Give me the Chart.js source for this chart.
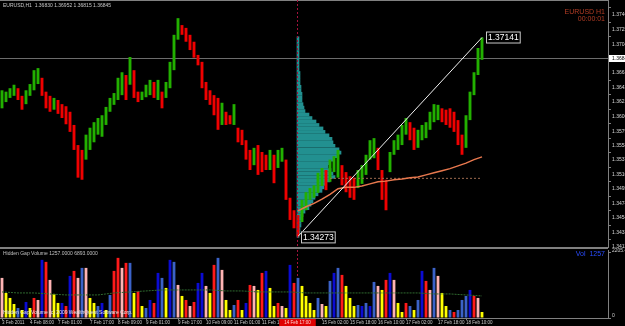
<!DOCTYPE html>
<html>
<head>
<meta charset="utf-8">
<script src="https://cdn.jsdelivr.net/npm/chart.js@4.4.1/dist/chart.umd.min.js"></script>
<style>
html, body { margin: 0; padding: 0; background: #000; overflow: hidden; }
#wrap { position: relative; width: 625px; height: 326px; background: #000; }
#price { position: absolute; left: 0; top: 0; }
#vol { position: absolute; left: 0; top: 247px; }
</style>
</head>
<body>
<div id="wrap">
  <canvas id="price" width="625" height="250"></canvas>
  <canvas id="vol" width="625" height="79"></canvas>
</div>
<script>
// EURUSD H1, 3 Feb - 18 Feb 2011
const SLOTS = 152;            // bar slots on the time axis (incl. empty space on the right)
const PROFILE_START = 74;     // bar where the volume profile / vertical line starts
const slots = Array.from({ length: SLOTS }, (_, i) => i);

const dateTicks = [0, 7, 14, 22, 29, 36, 44, 51, 58, 65, 80, 87, 94, 101, 109, 116];
const dateLabels = ['3 Feb 2011', '4 Feb 08:00', '7 Feb 01:00', '7 Feb 17:00', '8 Feb 09:00',
  '9 Feb 01:00', '9 Feb 17:00', '10 Feb 09:00', '11 Feb 01:00', '11 Feb 17:00', '15 Feb 02:00',
  '15 Feb 18:00', '16 Feb 10:00', '17 Feb 02:00', '17 Feb 18:00', '18 Feb 10:00'];
const lineTimeLabel = '14 Feb 17:00';

const priceTicks = [1.34120, 1.34330, 1.34540, 1.34745, 1.34955, 1.35165, 1.35375, 1.35585,
  1.35790, 1.36000, 1.36210, 1.36420, 1.36630, 1.37045, 1.37255, 1.37465];
const priceMin = 1.34120, priceMax = 1.37682;
const lastPrice = 1.36845;

const highs = [1.3638, 1.3636, 1.3641, 1.3646, 1.3641, 1.3630, 1.3638, 1.3647, 1.3667, 1.3670,
  1.3656, 1.3636, 1.3630, 1.3627, 1.3624, 1.3618, 1.3615, 1.3607, 1.3588, 1.3559,
  1.3552, 1.3574, 1.3584, 1.3592, 1.3598, 1.3602, 1.3614, 1.3627, 1.3634, 1.3656,
  1.3664, 1.3660, 1.3686, 1.3667, 1.3636, 1.3636, 1.3646, 1.3653, 1.3650, 1.3653,
  1.3636, 1.3650, 1.3679, 1.3718, 1.3742, 1.3732, 1.3728, 1.3718, 1.3708, 1.3689,
  1.3679, 1.3650, 1.3638, 1.3631, 1.3627, 1.3620, 1.3607, 1.3602, 1.3618, 1.3584,
  1.3581, 1.3566, 1.3552, 1.3555, 1.3559, 1.3549, 1.3545, 1.3552, 1.3545, 1.3552,
  1.3555, 1.3538, 1.3483, 1.3465, 1.3458, 1.3480, 1.3491, 1.3497, 1.3501, 1.3519,
  1.3526, 1.3523, 1.3538, 1.3543, 1.3552, 1.3530, 1.3520, 1.3514, 1.3512, 1.3523,
  1.3530, 1.3545, 1.3566, 1.3569, 1.3555, 1.3523, 1.3509, 1.3549, 1.3566, 1.3574,
  1.3588, 1.3598, 1.3592, 1.3584, 1.3581, 1.3588, 1.3592, 1.3607, 1.3618, 1.3617,
  1.3612, 1.3610, 1.3612, 1.3607, 1.3595, 1.3574, 1.3602, 1.3636, 1.3664, 1.3699,
  1.37141];
const lows = [1.3612, 1.3621, 1.3627, 1.3630, 1.3624, 1.3610, 1.3618, 1.3630, 1.3638, 1.3647,
  1.3630, 1.3612, 1.3607, 1.3610, 1.3604, 1.3598, 1.3589, 1.3578, 1.3552, 1.3512,
  1.3509, 1.3538, 1.3552, 1.3563, 1.3574, 1.3571, 1.3588, 1.3607, 1.3617, 1.3624,
  1.3631, 1.3624, 1.3646, 1.3627, 1.3621, 1.3624, 1.3628, 1.3631, 1.3627, 1.3624,
  1.3612, 1.3627, 1.3641, 1.3667, 1.3711, 1.3718, 1.3708, 1.3696, 1.3685, 1.3674,
  1.3641, 1.3624, 1.3617, 1.3602, 1.3581, 1.3588, 1.3588, 1.3589, 1.3588, 1.3563,
  1.3559, 1.3538, 1.3523, 1.3530, 1.3516, 1.3520, 1.3523, 1.3523, 1.3504, 1.3526,
  1.3535, 1.3480, 1.3451, 1.3439, 1.34273, 1.3448, 1.3465, 1.3480, 1.3483, 1.3490,
  1.3500, 1.3494, 1.3506, 1.3520, 1.3512, 1.3501, 1.3491, 1.3483, 1.3480, 1.3497,
  1.3503, 1.3516, 1.3538, 1.3540, 1.3523, 1.3480, 1.3465, 1.3520, 1.3545, 1.3552,
  1.3559, 1.3574, 1.3566, 1.3552, 1.3555, 1.3566, 1.3569, 1.3581, 1.3592, 1.3595,
  1.3592, 1.3588, 1.3584, 1.3578, 1.3559, 1.3545, 1.3555, 1.3595, 1.3631, 1.3660,
  1.3682];

// trend line between session low and latest high
const trendIdx = [74, 120];
const trendVals = [1.34273, 1.37141];

// session VWAP (orange) and level line (dotted)
const vwapIdx = [74, 76, 78, 80, 82, 84, 86, 88, 90, 92, 94, 96, 98, 100, 102, 104, 106, 108, 110, 112, 114, 116, 118, 120];
const vwapVals = [1.3464, 1.3470, 1.3475, 1.3481, 1.3488, 1.3496, 1.3498, 1.3498, 1.3500, 1.3503, 1.3506, 1.3507,
  1.3509, 1.3510, 1.3512, 1.3513, 1.3516, 1.3519, 1.3522, 1.3525, 1.3529, 1.3533, 1.3538, 1.3542];
const levelIdx = [82, 120];
const levelVal = 1.3511;

// volume profile of the session (price level -> volume)
const profileLevels = [1.3428, 1.3433, 1.3438, 1.3443, 1.3448, 1.3453, 1.3458, 1.3463, 1.3468, 1.3473,
  1.3478, 1.3483, 1.3488, 1.3493, 1.3498, 1.3503, 1.3508, 1.3513, 1.3518, 1.3523,
  1.3528, 1.3533, 1.3538, 1.3543, 1.3548, 1.3553, 1.3558, 1.3563, 1.3568, 1.3573,
  1.3578, 1.3583, 1.3588, 1.3593, 1.3598, 1.3603, 1.3608, 1.3613, 1.3618, 1.3623,
  1.3628, 1.3633, 1.3638, 1.3643, 1.3648, 1.3653, 1.3658, 1.3663, 1.3668, 1.3673,
  1.3678, 1.3683, 1.3688, 1.3693, 1.3698, 1.3703, 1.3708, 1.3713];
const profileVols = [400, 600, 600, 800, 800, 1000, 1200, 1600, 2400, 2800,
  3200, 3600, 4200, 5000, 5400, 5800, 6600, 7600, 7200, 6800,
  6200, 6600, 7200, 8000, 8800, 8400, 7600, 7200, 7000, 6400,
  5600, 5200, 4400, 3800, 3000, 2400, 1600, 1400, 1200, 1000,
  1000, 1000, 800, 800, 600, 600, 600, 600, 400, 400,
  400, 400, 400, 400, 400, 400, 400, 400];
const PROFILE_PER_SLOT = 800;

// Hidden Gap Volume
const volumes = [1360, 850, 680, 476, 340, 272, 544, 340, 680, 612,
  1972, 1904, 1292, 816, 510, 510, 408, 1428, 1598, 1360,
  1700, 1700, 680, 510, 408, 510, 272, 782, 1598, 2040,
  1700, 1870, 1870, 850, 918, 408, 340, 612, 510, 1530,
  1360, 1020, 1972, 1904, 1122, 748, 612, 408, 544, 1190,
  1530, 1088, 850, 1802, 2040, 1632, 612, 272, 442, 612,
  272, 510, 1122, 1088, 952, 1530, 1598, 1020, 408, 510,
  408, 340, 1802, 1190, 1360, 1088, 748, 510, 272, 680,
  476, 408, 1258, 1530, 1700, 1462, 1088, 680, 408, 442,
  408, 510, 408, 1224, 1088, 952, 1292, 1530, 1292, 510,
  204, 510, 408, 272, 612, 1598, 1258, 952, 1700, 1428,
  850, 408, 272, 204, 272, 612, 748, 952, 748, 680,
  204];
const volTypes = 'pyyylybyrp' + 'brpyybrbrp' + 'lpyylbylrr' + 'prlyrylbrb' + 'lyblpyrprb' +
  'bpyrlpyylr' + 'ybrpyrbyyr' + 'pybrlyyyyl' + 'pylblryyyl' + 'blblpyrbpy' + 'yrlylbrplp' + 'yylrlllbrpy';
const maIdx = [0, 4, 8, 12, 16, 20, 24, 28, 32, 36, 40, 44, 48, 52, 56, 60, 64, 68, 72, 76, 80, 84, 88, 92, 96, 100, 104, 108, 112, 116, 120];
const maVals = [884, 850, 850, 816, 782, 782, 782, 850, 884, 918, 952, 952, 952, 952, 918, 918,
  884, 884, 884, 850, 850, 850, 850, 850, 850, 850, 850, 816, 816, 782, 748];
const volTicks = [0, 2205.4];
const volMax = 2307;

const FONT = 'Liberation Sans';
const UP = '#22b000', DOWN = '#f00000';
const volPalette = { b: '#0b0bd2', l: '#3b62c8', r: '#ff1a1a', p: '#ffb4b4', y: '#ffff00' };
const AXIS = '#808080';

const candles = highs.map((h, i) => [lows[i], h]);
const candleColors = highs.map((h, i) =>
  i === 0 || h + lows[i] >= highs[i - 1] + lows[i - 1] ? UP : DOWN);
const pts = (idx, vals) => idx.map((x, i) => ({ x, y: Array.isArray(vals) ? vals[i] : vals }));

function noPad(s) { s.paddingTop = 0; s.paddingBottom = 0; s.paddingLeft = 0; s.paddingRight = 0; }

function labelBox(ctx, text, left, cy) {
  ctx.font = '8.5px ' + FONT;
  const w = ctx.measureText(text).width + 4;
  ctx.fillStyle = '#000';
  ctx.fillRect(left, cy - 6, w, 12);
  ctx.strokeStyle = '#c8c8c8';
  ctx.lineWidth = 1;
  ctx.strokeRect(left + 0.5, cy - 5.5, w - 1, 11);
  ctx.fillStyle = '#ffffff';
  ctx.textBaseline = 'middle';
  ctx.textAlign = 'left';
  ctx.fillText(text, left + 2, cy + 0.5);
}

const priceDecor = {
  id: 'priceDecor',
  beforeDatasetsDraw(chart) {
    const { ctx, chartArea: a, scales: { y } } = chart;
    ctx.save();
    ctx.strokeStyle = AXIS;
    ctx.lineWidth = 1;
    ctx.beginPath(); ctx.moveTo(0, 0.5); ctx.lineTo(a.right, 0.5); ctx.stroke();
    const yc = Math.round(y.getPixelForValue(lastPrice)) + 0.5;
    ctx.strokeStyle = '#6c6c6c';
    ctx.beginPath(); ctx.moveTo(a.left, yc); ctx.lineTo(a.right, yc); ctx.stroke();
    ctx.restore();
  },
  afterDatasetsDraw(chart) {
    const { ctx, chartArea: a, scales: { x, y } } = chart;
    ctx.save();
    const lx = Math.round(x.getPixelForValue(PROFILE_START)) - 0.5;
    ctx.strokeStyle = '#a3123c';
    ctx.setLineDash([2, 2]);
    ctx.beginPath(); ctx.moveTo(lx, a.top); ctx.lineTo(lx, a.bottom); ctx.stroke();
    ctx.setLineDash([]);
    labelBox(ctx, trendVals[1].toFixed(5), x.getPixelForValue(trendIdx[1]) + 4, y.getPixelForValue(trendVals[1]));
    labelBox(ctx, trendVals[0].toFixed(5), x.getPixelForValue(trendIdx[0]) + 3, y.getPixelForValue(trendVals[0]) + 1);
    ctx.restore();
  },
  afterDraw(chart) {
    const { ctx, chartArea: a, scales: { y } } = chart;
    ctx.save();
    ctx.textBaseline = 'middle';
    ctx.font = '5px ' + FONT;
    ctx.fillStyle = '#c8c8c8';
    ctx.textAlign = 'left';
    ctx.fillText('EURUSD,H1  1.36830 1.36952 1.36815 1.36845', 3, 6);
    ctx.font = '7px ' + FONT;
    ctx.fillStyle = '#b23c24';
    ctx.textAlign = 'right';
    ctx.fillText('EURUSD H1', 605, 12);
    ctx.fillText('00:00:01', 605, 19);
    const yc = Math.round(y.getPixelForValue(lastPrice)) + 0.5;
    ctx.fillStyle = '#ffffff';
    ctx.fillRect(a.right + 1, yc - 3.5, 17, 7);
    ctx.fillStyle = '#000';
    ctx.font = '5px ' + FONT;
    ctx.textAlign = 'left';
    ctx.fillText(lastPrice.toFixed(5), a.right + 4, yc + 0.5);
    ctx.restore();
  }
};

new Chart(document.getElementById('price'), {
  type: 'bar',
  data: {
    labels: slots,
    datasets: [
      { type: 'line', data: pts(trendIdx, trendVals), borderColor: '#f2f2f2', borderWidth: 1, pointRadius: 0, order: 0 },
      { type: 'line', data: pts(vwapIdx, vwapVals), borderColor: '#e8784e', borderWidth: 1.5, pointRadius: 0, order: 1 },
      { type: 'line', data: pts(levelIdx, levelVal), borderColor: '#9c6a4e', borderWidth: 1, borderDash: [2, 2], pointRadius: 0, order: 2 },
      { type: 'bar', data: candles, backgroundColor: candleColors, grouped: false,
        categoryPercentage: 1, barPercentage: 0.72, order: 3 },
      { type: 'bar', indexAxis: 'y', xAxisID: 'xp', yAxisID: 'y', grouped: false,
        data: profileLevels.map((p, i) => ({ x: profileVols[i], y: p })),
        backgroundColor: '#229090', barThickness: 3, order: 10 }
    ]
  },
  options: {
    responsive: false,
    animation: false,
    events: [],
    layout: { padding: { top: 0, left: 0, right: 0, bottom: 3 } },
    plugins: { legend: { display: false }, tooltip: { enabled: false } },
    scales: {
      x: { type: 'category', display: false, offset: true },
      xp: { type: 'linear', axis: 'x', display: false, offset: false,
        min: -(PROFILE_START + 0.25) * PROFILE_PER_SLOT,
        max: (SLOTS - PROFILE_START - 0.25) * PROFILE_PER_SLOT },
      y: {
        type: 'linear', position: 'right', min: priceMin, max: priceMax, offset: false,
        grid: { display: true, drawOnChartArea: false, tickLength: 3, color: AXIS },
        border: { display: true, color: AXIS },
        ticks: { padding: 1, color: '#d8d8d8', font: { size: 5, family: FONT }, callback: v => v.toFixed(5) },
        afterBuildTicks: s => { s.ticks = priceTicks.map(v => ({ value: v })); },
        afterFit: s => { s.width = 17; noPad(s); }
      }
    }
  },
  plugins: [priceDecor]
});

const volDecor = {
  id: 'volDecor',
  beforeDatasetsDraw(chart) {
    const { ctx, chartArea: a, scales: { x } } = chart;
    ctx.save();
    ctx.fillStyle = AXIS;
    ctx.fillRect(0, 0, a.right, 2);
    const lx = Math.round(x.getPixelForValue(PROFILE_START)) - 0.5;
    ctx.strokeStyle = '#a3123c';
    ctx.setLineDash([2, 2]);
    ctx.beginPath(); ctx.moveTo(lx, a.top); ctx.lineTo(lx, a.bottom); ctx.stroke();
    ctx.restore();
  },
  afterDraw(chart) {
    const { ctx, chartArea: a, scales: { x } } = chart;
    ctx.save();
    ctx.textBaseline = 'middle';
    ctx.textAlign = 'left';
    ctx.font = '5px ' + FONT;
    ctx.fillStyle = '#c0c0c0';
    ctx.fillText('Hidden Gap Volume 1257.0000 6893.0000', 3, 7);
    ctx.fillStyle = '#e6e6e6';
    ctx.fillText('Hidden Gap Volume (c) 2009 WealthQuest Software Corp.', 3, 66);
    ctx.font = '7px ' + FONT;
    ctx.fillStyle = '#2a4cff';
    ctx.textAlign = 'right';
    ctx.fillText('Vol  1257', 605, 7);
    const lx = Math.round(x.getPixelForValue(PROFILE_START)) - 0.5;
    ctx.font = '4.5px ' + FONT;
    const w = ctx.measureText(lineTimeLabel).width + 10;
    ctx.fillStyle = '#e00000';
    ctx.fillRect(lx - w / 2, a.bottom + 1, w, 8);
    ctx.fillStyle = '#ffd0d0';
    ctx.textAlign = 'center';
    ctx.fillText(lineTimeLabel, lx, a.bottom + 5);
    ctx.restore();
  }
};

new Chart(document.getElementById('vol'), {
  type: 'bar',
  data: {
    labels: slots,
    datasets: [
      { type: 'line', data: pts(maIdx, maVals), borderColor: '#2f6a2f', borderWidth: 1, borderDash: [2, 1], pointRadius: 0, order: 0 },
      { type: 'bar', data: volumes, backgroundColor: volumes.map((v, i) => volPalette[volTypes[i]]),
        grouped: false, categoryPercentage: 1, barPercentage: 0.7, order: 1 }
    ]
  },
  options: {
    responsive: false,
    animation: false,
    events: [],
    layout: { padding: { top: 3, left: 0, right: 0, bottom: 0 } },
    plugins: { legend: { display: false }, tooltip: { enabled: false } },
    scales: {
      x: {
        type: 'category', offset: true,
        grid: { display: true, drawOnChartArea: false, tickLength: 2, color: AXIS, offset: false },
        border: { display: true, color: AXIS },
        ticks: { autoSkip: false, maxRotation: 0, align: 'start', padding: 0, color: '#c8c8c8',
          font: { size: 4.5, family: FONT }, callback: v => dateLabels[dateTicks.indexOf(v)] },
        afterBuildTicks: s => { s.ticks = dateTicks.map(v => ({ value: v })); },
        afterFit: s => { s.height = 8; noPad(s); }
      },
      y: {
        type: 'linear', position: 'right', min: 0, max: volMax,
        grid: { display: true, drawOnChartArea: false, tickLength: 3, color: AXIS },
        border: { display: true, color: AXIS },
        ticks: { padding: 1, labelOffset: -2, color: '#d0d0d0', font: { size: 5, family: FONT },
          callback: v => v === 0 ? '0' : v.toFixed(1) },
        afterBuildTicks: s => { s.ticks = volTicks.map(v => ({ value: v })); },
        afterFit: s => { s.width = 17; noPad(s); }
      }
    }
  },
  plugins: [volDecor]
});
</script>
</body>
</html>
